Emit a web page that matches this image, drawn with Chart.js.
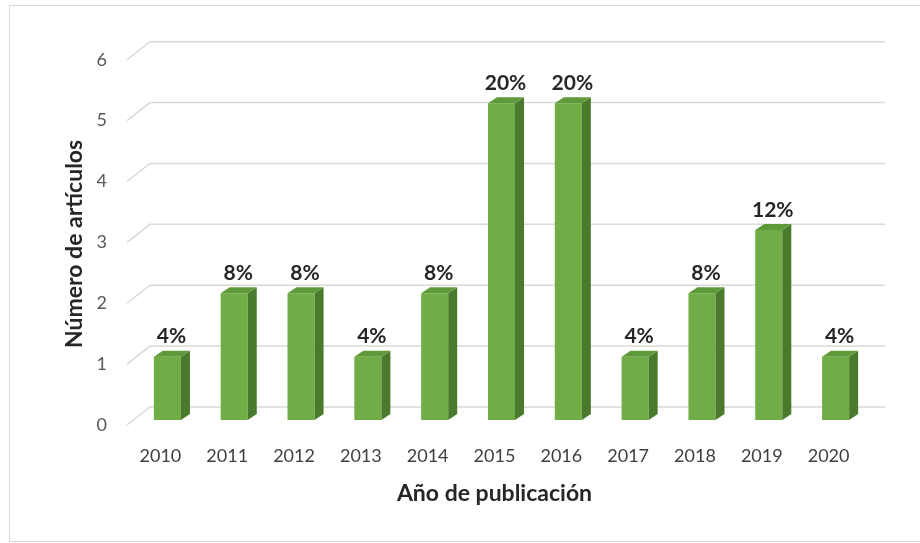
<!DOCTYPE html>
<html>
<head>
<meta charset="utf-8">
<script src="https://cdn.jsdelivr.net/npm/chart.js@4/dist/chart.umd.min.js"></script>
<style>
  html, body { margin: 0; padding: 0; background: #fff; overflow: hidden; }
  #wrap { position: relative; width: 920px; height: 543px; }
  #frame { position: absolute; left: 9px; top: 5px; width: 940px; height: 535px; border: 1px solid #d9d9d9; }
  #chart { position: absolute; left: 0; top: 0; }
</style>
</head>
<body>
<div id="wrap">
  <div id="frame"></div>
  <canvas id="chart" width="920" height="543"></canvas>
</div>
<script>
// Data
const years = ["2010", "2011", "2012", "2013", "2014", "2015", "2016", "2017", "2018", "2019", "2020"];
const articles = [1, 2, 2, 1, 2, 5, 5, 1, 2, 3, 1];
const percentLabels = ["4%", "8%", "8%", "4%", "8%", "20%", "20%", "4%", "8%", "12%", "4%"];
const yTicks = [0, 1, 2, 3, 4, 5, 6];
const yTitle = "Número de artículos";

const FRONT = "#70ad47";
const TOP = "#5f9a3a";
const SIDE = "#4a7a2c";
const GRID = "#d9d9d9";
const FONT = "Lato, 'Open Sans', sans-serif";

// 3D look: bars sit a bit behind the front plane of the axes
const BAR_SHIFT_X = 7, BAR_SHIFT_Y = -5;
const BAR_DEPTH_X = 9, BAR_DEPTH_Y = 6;
const GRID_DEPTH_X = 23, GRID_DEPTH_Y = 18;

const wallGrid = {
  id: "wallGrid",
  beforeDatasetsDraw(chart) {
    const { ctx, chartArea } = chart;
    const y = chart.scales.y;
    ctx.save();
    ctx.strokeStyle = GRID;
    ctx.lineWidth = 1.5;
    yTicks.forEach((v) => {
      const yf = y.getPixelForValue(v);
      const yb = yf - GRID_DEPTH_Y;
      ctx.beginPath();
      ctx.moveTo(chartArea.left, yf);
      ctx.lineTo(chartArea.left + GRID_DEPTH_X, yb);
      ctx.lineTo(chartArea.right + GRID_DEPTH_X, yb);
      ctx.stroke();
    });
    ctx.restore();
    // shift the bars back into the box
    ctx.save();
    ctx.translate(BAR_SHIFT_X, BAR_SHIFT_Y);
  },
  afterDatasetsDraw(chart) {
    const { ctx } = chart;
    const meta = chart.getDatasetMeta(0);
    meta.data.forEach((bar, i) => {
      const { x, y, base, width } = bar.getProps(["x", "y", "base", "width"], true);
      const l = x - width / 2, r = x + width / 2;
      // side face
      ctx.fillStyle = SIDE;
      ctx.beginPath();
      ctx.moveTo(r, y);
      ctx.lineTo(r + BAR_DEPTH_X, y - BAR_DEPTH_Y);
      ctx.lineTo(r + BAR_DEPTH_X, base - BAR_DEPTH_Y);
      ctx.lineTo(r, base);
      ctx.closePath();
      ctx.fill();
      // top face
      ctx.fillStyle = TOP;
      ctx.beginPath();
      ctx.moveTo(l, y);
      ctx.lineTo(l + BAR_DEPTH_X, y - BAR_DEPTH_Y);
      ctx.lineTo(r + BAR_DEPTH_X, y - BAR_DEPTH_Y);
      ctx.lineTo(r, y);
      ctx.closePath();
      ctx.fill();
      // percentage label
      ctx.fillStyle = "#262626";
      ctx.font = "bold 21px " + FONT;
      ctx.textAlign = "center";
      ctx.textBaseline = "middle";
      ctx.fillText(percentLabels[i], x + 4, y - 20);
    });
    ctx.restore();
  },
  afterDraw(chart) {
    // y title sits a little below the middle of the axis, as in the original
    const { ctx, chartArea } = chart;
    ctx.save();
    ctx.translate(75, (chartArea.top + chartArea.bottom) / 2 + 16);
    ctx.rotate(-Math.PI / 2);
    ctx.fillStyle = "#262626";
    ctx.font = "bold 23px " + FONT;
    ctx.textAlign = "center";
    ctx.textBaseline = "middle";
    ctx.fillText(yTitle, 0, 0);
    ctx.restore();
  },
};

new Chart(document.getElementById("chart"), {
  type: "bar",
  data: {
    labels: years,
    datasets: [
      {
        data: articles,
        yAxisID: "yBar",
        backgroundColor: FRONT,
        borderWidth: 0,
        categoryPercentage: 1,
        barPercentage: 0.405,
        clip: false,
      },
    ],
  },
  options: {
    responsive: false,
    animation: false,
    layout: { padding: { left: 10, right: 58, top: 30, bottom: 20 } },
    plugins: { legend: { display: false }, tooltip: { enabled: false } },
    scales: {
      x: {
        grid: { display: false, drawTicks: false },
        border: { display: false },
        afterFit(scale) { scale.height = 98; },
        ticks: { color: "#404040", font: { family: FONT, size: 18 }, padding: 20, maxRotation: 0 },
        title: {
          display: true,
          text: "Año de publicación",
          color: "#262626",
          font: { family: FONT, size: 23, weight: "bold" },
          padding: { top: 10, bottom: 16 },
        },
      },
      y: {
        position: "left",
        min: 0,
        max: 395 / 61,
        grid: { display: false, drawTicks: false },
        border: { display: false },
        afterFit(scale) { scale.width = 117; },
        afterBuildTicks(scale) {
          scale.ticks = yTicks.map((v) => ({ value: v }));
        },
        ticks: { color: "#595959", font: { family: FONT, size: 18 }, padding: 20, stepSize: 1 },
      },
      yBar: {
        display: false,
        min: 0,
        max: 395 / 63.5,
      },
    },
  },
  plugins: [wallGrid],
});
</script>
</body>
</html>
